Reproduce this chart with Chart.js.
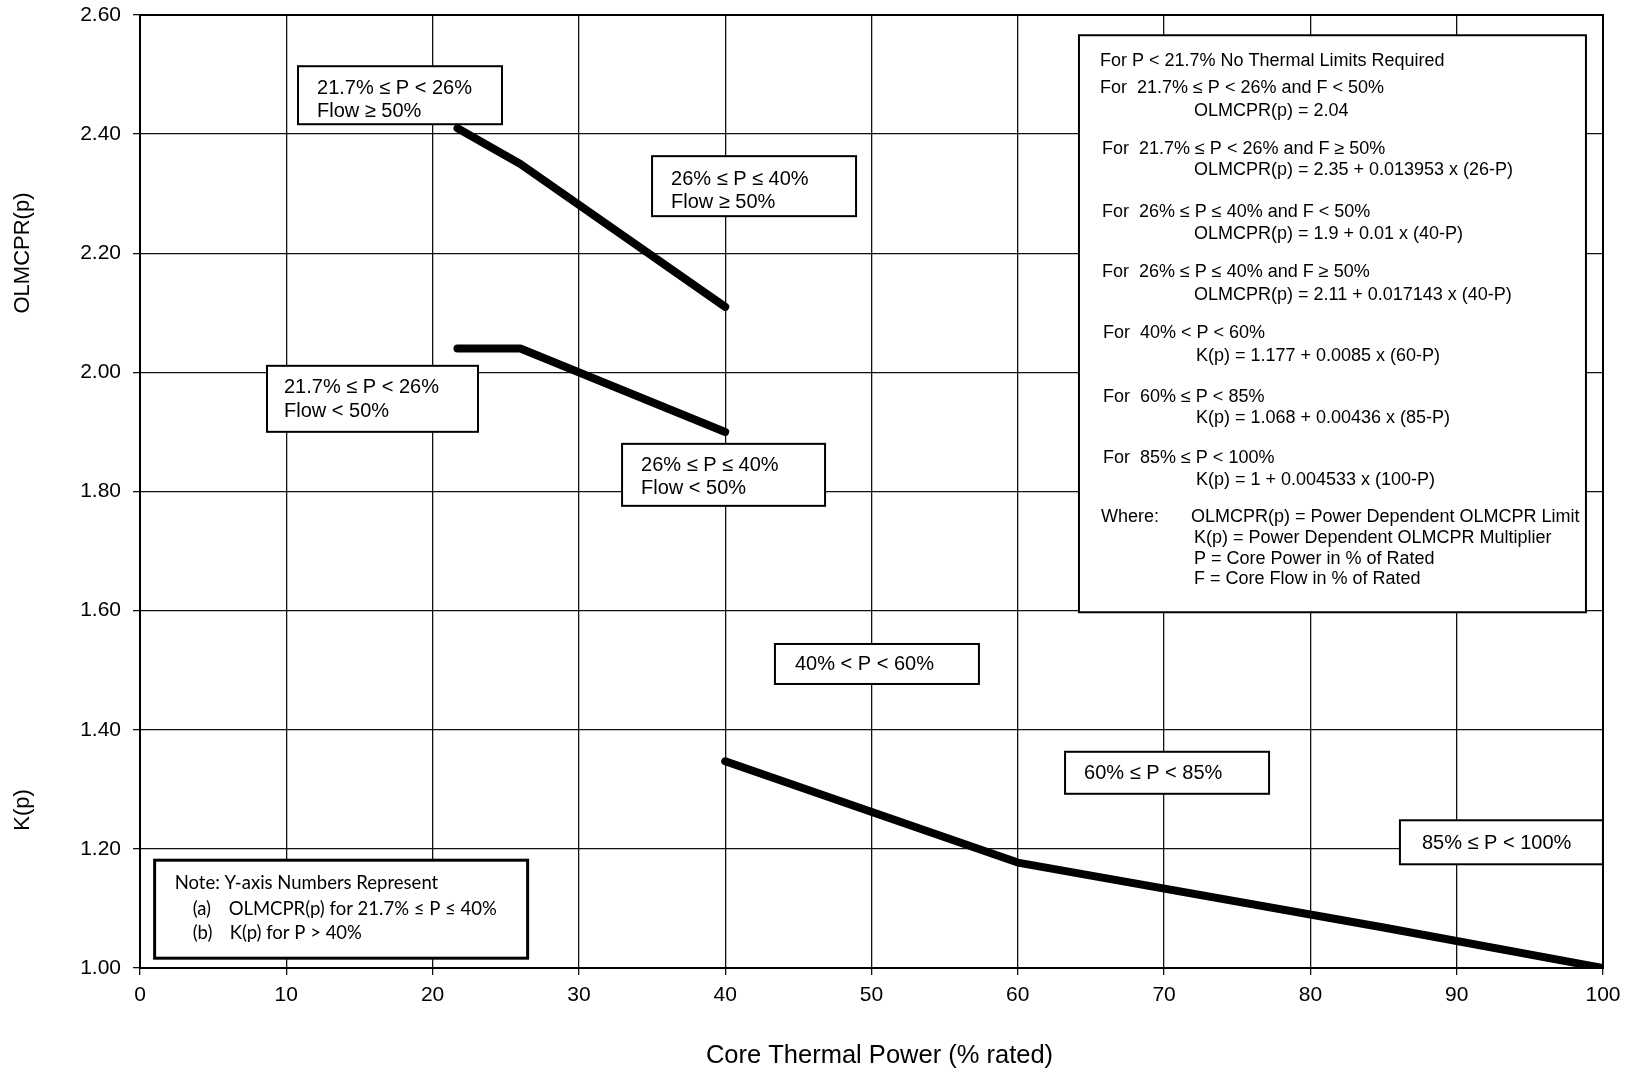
<!DOCTYPE html>
<html>
<head>
<meta charset="utf-8">
<style>html,body{margin:0;padding:0;background:#fff}canvas{display:block}</style>
<script src="https://cdn.jsdelivr.net/npm/chart.js@4.4.1/dist/chart.umd.min.js"></script>
</head>
<body>
<canvas id="c" width="1640" height="1073"></canvas>
<script>
// ---- data ----
const xTickValues = [0, 10, 20, 30, 40, 50, 60, 70, 80, 90, 100];
const yTickValues = [1.00, 1.20, 1.40, 1.60, 1.80, 2.00, 2.20, 2.40, 2.60];
const powerFlowHigh = [21.7, 26, 40];
const olmcprFlowHigh = [2.41, 2.35, 2.11];
const powerFlowLow = [21.7, 26, 40];
const olmcprFlowLow = [2.04, 2.04, 1.90];
const powerK = [40, 60, 85, 100];
const kValues = [1.347, 1.177, 1.068, 1.00];

const xTitle = 'Core Thermal Power (% rated)';
const yTitleTop = 'OLMCPR(p)';
const yTitleBottom = 'K(p)';

const FONT = '"Liberation Sans", Arial, sans-serif';
const NOTE_FONT = 'Lato, "Noto Sans", sans-serif';

// ---- annotation boxes (anchored at data coords, sizes in px) ----
const boxes = [
  {x: 10.80, y: 2.514, w: 204, h: 58, lines: [[19, 22, '21.7% \u2264 P < 26%'], [19, 45, 'Flow \u2265 50%']]},
  {x: 35.00, y: 2.363, w: 204, h: 60, lines: [[19, 23, '26% \u2264 P \u2264 40%'], [19, 46, 'Flow \u2265 50%']]},
  {x: 8.68,  y: 2.011, w: 211, h: 66, lines: [[17, 22, '21.7% \u2264 P < 26%'], [17, 46, 'Flow < 50%']]},
  {x: 32.95, y: 1.880, w: 203, h: 62, lines: [[19, 22, '26% \u2264 P \u2264 40%'], [19, 45, 'Flow < 50%']]},
  {x: 43.40, y: 1.544, w: 204, h: 40, lines: [[20, 21, '40% < P < 60%']]},
  {x: 63.23, y: 1.363, w: 204, h: 42, lines: [[19, 22, '60% \u2264 P < 85%']]},
  {x: 86.12, y: 1.248, w: 203, h: 44, lines: [[22, 23, '85% \u2264 P < 100%']]}
];
const noteBox = {x: 1.00, y: 1.181, w: 373, h: 98, lines: [
  [20, 23, 'Note: Y-axis Numbers Represent'],
  [38, 49, '(a)'], [74, 49, 'OLMCPR(p) for 21.7% \u2264 P \u2264 40%'],
  [38, 73, '(b)'], [75, 73, 'K(p) for P > 40%']
]};
const formulaBox = {x: 64.18, y: 2.566, w: 507, h: 577, lines: [
  [21, 26, 'For P < 21.7% No Thermal Limits Required'],
  [21, 53, 'For  21.7% \u2264 P < 26% and F < 50%'],
  [115, 76, 'OLMCPR(p) = 2.04'],
  [23, 114, 'For  21.7% \u2264 P < 26% and F \u2265 50%'],
  [115, 135, 'OLMCPR(p) = 2.35 + 0.013953 x (26-P)'],
  [23, 177, 'For  26% \u2264 P \u2264 40% and F < 50%'],
  [115, 199, 'OLMCPR(p) = 1.9 + 0.01 x (40-P)'],
  [23, 237, 'For  26% \u2264 P \u2264 40% and F \u2265 50%'],
  [115, 260, 'OLMCPR(p) = 2.11 + 0.017143 x (40-P)'],
  [24, 298, 'For  40% < P < 60%'],
  [117, 321, 'K(p) = 1.177 + 0.0085 x (60-P)'],
  [24, 362, 'For  60% \u2264 P < 85%'],
  [117, 383, 'K(p) = 1.068 + 0.00436 x (85-P)'],
  [24, 423, 'For  85% \u2264 P < 100%'],
  [117, 445, 'K(p) = 1 + 0.004533 x (100-P)'],
  [22, 482, 'Where:'],
  [112, 482, 'OLMCPR(p) = Power Dependent OLMCPR Limit'],
  [115, 503, 'K(p) = Power Dependent OLMCPR Multiplier'],
  [115, 524, 'P = Core Power in % of Rated'],
  [115, 544, 'F = Core Flow in % of Rated']
]};

function pts(xs, ys) { return xs.map((x, i) => ({x: x, y: ys[i]})); }

function drawBox(ctx, chart, b, font, lw) {
  const L = chart.scales.x.getPixelForValue(b.x);
  const T = chart.scales.y.getPixelForValue(b.y);
  ctx.fillStyle = '#fff';
  ctx.fillRect(L, T, b.w, b.h);
  ctx.strokeStyle = '#000';
  ctx.lineWidth = lw;
  ctx.strokeRect(L, T, b.w, b.h);
  ctx.fillStyle = '#000';
  ctx.font = font;
  ctx.textAlign = 'left';
  ctx.textBaseline = 'middle';
  b.lines.forEach(l => ctx.fillText(l[2], L + l[0], T + l[1]));
}

const overlay = {
  id: 'overlay',
  afterDatasetsDraw(chart) {
    const ctx = chart.ctx, ca = chart.chartArea;
    ctx.save();
    ctx.strokeStyle = '#000';
    ctx.lineWidth = 2;
    ctx.strokeRect(ca.left, ca.top, ca.right - ca.left, ca.bottom - ca.top);
    boxes.forEach(b => drawBox(ctx, chart, b, '20px ' + FONT, 2));
    drawBox(ctx, chart, noteBox, '18.5px ' + NOTE_FONT, 3);
    drawBox(ctx, chart, formulaBox, '18px ' + FONT, 2);
    // axis titles
    ctx.fillStyle = '#000';
    ctx.textAlign = 'center';
    ctx.textBaseline = 'middle';
    ctx.font = '25.5px ' + FONT;
    ctx.fillText(xTitle, (ca.left + ca.right) / 2 + 8, 1056);
    ctx.font = '22px ' + FONT;
    ctx.save(); ctx.translate(23, 253); ctx.rotate(-Math.PI / 2); ctx.fillText(yTitleTop, 0, 0); ctx.restore();
    ctx.save(); ctx.translate(23, 810); ctx.rotate(-Math.PI / 2); ctx.fillText(yTitleBottom, 0, 0); ctx.restore();
    ctx.restore();
  }
};

const lineStyle = {borderColor: '#000', borderWidth: 8, pointRadius: 0, fill: false, tension: 0,
  borderCapStyle: 'round', borderJoinStyle: 'round'};

new Chart(document.getElementById('c'), {
  type: 'line',
  data: {
    datasets: [
      Object.assign({label: 'OLMCPR(p) Flow \u2265 50%', data: pts(powerFlowHigh, olmcprFlowHigh)}, lineStyle),
      Object.assign({label: 'OLMCPR(p) Flow < 50%', data: pts(powerFlowLow, olmcprFlowLow)}, lineStyle),
      Object.assign({label: 'K(p)', data: pts(powerK, kValues)}, lineStyle)
    ]
  },
  options: {
    responsive: false,
    animation: false,
    devicePixelRatio: 1,
    layout: {padding: {top: 15, right: 37, left: 0, bottom: 0}},
    plugins: {legend: {display: false}, tooltip: {enabled: false}},
    scales: {
      x: {
        type: 'linear', min: 0, max: 100,
        afterBuildTicks: s => { s.ticks = xTickValues.map(v => ({value: v})); },
        afterFit: s => { s.height = 105; s.paddingLeft = 0; s.paddingRight = 0; },
        ticks: {color: '#000', font: {family: FONT, size: 21}, padding: 8, maxRotation: 0,
                callback: v => String(v)},
        grid: {color: '#111', lineWidth: 1.3, tickLength: 7},
        border: {display: true, color: '#000', width: 2}
      },
      y: {
        type: 'linear', min: 1.0, max: 2.6,
        afterBuildTicks: s => { s.ticks = yTickValues.map(v => ({value: v})); },
        afterFit: s => { s.width = 140; s.paddingTop = 0; s.paddingBottom = 0; },
        ticks: {color: '#000', font: {family: FONT, size: 21}, padding: 12,
                callback: v => Number(v).toFixed(2)},
        grid: {color: '#111', lineWidth: 1.3, tickLength: 7},
        border: {display: true, color: '#000', width: 2}
      }
    }
  },
  plugins: [overlay]
});
</script>
</body>
</html>
